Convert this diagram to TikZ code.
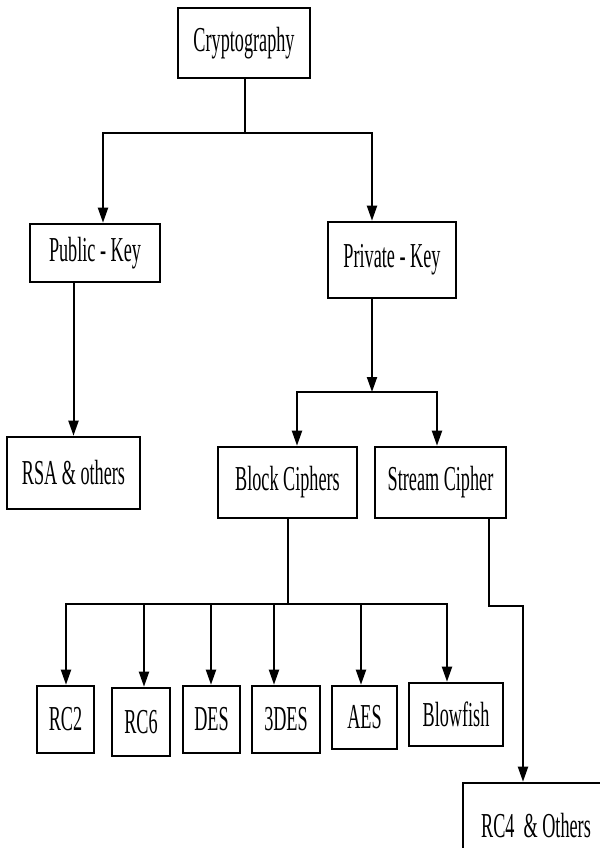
\documentclass[tikz,border=0pt]{standalone}
\usepackage{fontspec}
\setmainfont{Liberation Serif}[FakeStretch=0.52]
\usetikzlibrary{arrows.meta}
\tikzset{
  box/.style={draw=black, line width=1.3pt, fill=white, inner sep=0pt, font=\fontsize{17.5pt}{19pt}\selectfont},
  conn/.style={draw=black, line width=1pt},
  arr/.style={conn, -{Triangle[width=5pt,length=7.5pt]}}
}
\begin{document}
\begin{tikzpicture}[x=0.5pt,y=-0.5pt]
\clip (0,0) rectangle (600,848);
\fill[white] (0,0) rectangle (600,848);
% boxes
\node[box, minimum width=66pt, minimum height=35pt] (crypto) at (244,43) {Cryptography};
\node[box, minimum width=65pt, minimum height=29pt] (public) at (95,253) {Public - Key};
\node[box, minimum width=64pt, minimum height=38pt] (private) at (392,260) {Private - Key};
\node[box, minimum width=66.5pt, minimum height=36pt] (rsa) at (73.5,473) {RSA \& others};
\node[box, minimum width=69.5pt, minimum height=35.5pt] (block) at (287.5,482.5) {Block Ciphers};
\node[box, minimum width=65.5pt, minimum height=35.5pt] (stream) at (440.5,482.5) {Stream Cipher};
\node[box, minimum width=28.5pt, minimum height=33.5pt] (rc2) at (65.5,719.5) {RC2};
\node[box, minimum width=29pt, minimum height=34pt] (rc6) at (141,722) {RC6};
\node[box, minimum width=28.5pt, minimum height=33.5pt] (des) at (211.5,719.5) {DES};
\node[box, minimum width=34pt, minimum height=33.5pt] (tdes) at (286,719.5) {3DES};
\node[box, minimum width=32.5pt, minimum height=31.5pt] (aes) at (364.5,717.5) {AES};
\node[box, minimum width=47pt, minimum height=31.5pt] (blow) at (456,714.5) {Blowfish};
\node[box, minimum width=73pt, minimum height=43pt] (rc4) at (536,826) {RC4~~\& Others};
% helper coordinates
\coordinate (j1) at (245,133);
\coordinate (xpub) at (103,0);
\coordinate (xpriv) at (372,0);
\coordinate (j2) at (372,392);
\coordinate (xblk) at (297,0);
\coordinate (xstr) at (437,0);
\coordinate (j3) at (288,604);
\coordinate (x1) at (66,0);
\coordinate (x2) at (144,0);
\coordinate (x3) at (211,0);
\coordinate (x4) at (274,0);
\coordinate (x5) at (361,0);
\coordinate (x6) at (447,0);
\coordinate (xs) at (489,0);
\coordinate (s1) at (489,606);
\coordinate (s2) at (523,606);
% connectors
\draw[conn] (crypto.south -| j1) -- (j1);
\draw[arr] (j1) -| (public.north -| xpub);
\draw[arr] (j1) -| (private.north -| xpriv);
\draw[arr] (public.south -| rsa.north) -- (rsa.north);
\draw[arr] (private.south -| xpriv) -- (j2);
\draw[arr] (j2) -| (block.north -| xblk);
\draw[arr] (j2) -| (stream.north -| xstr);
\draw[conn] (block.south -| j3) -- (j3);
\draw[arr] (j3) -| (rc2.north -| x1);
\draw[arr] (j3) -| (rc6.north -| x2);
\draw[arr] (j3) -| (des.north -| x3);
\draw[arr] (j3) -| (tdes.north -| x4);
\draw[arr] (j3) -| (aes.north -| x5);
\draw[arr] (j3) -| (blow.north -| x6);
\draw[arr] (stream.south -| xs) -- (s1) -- (s2) -- (rc4.north -| s2);
\end{tikzpicture}
\end{document}
